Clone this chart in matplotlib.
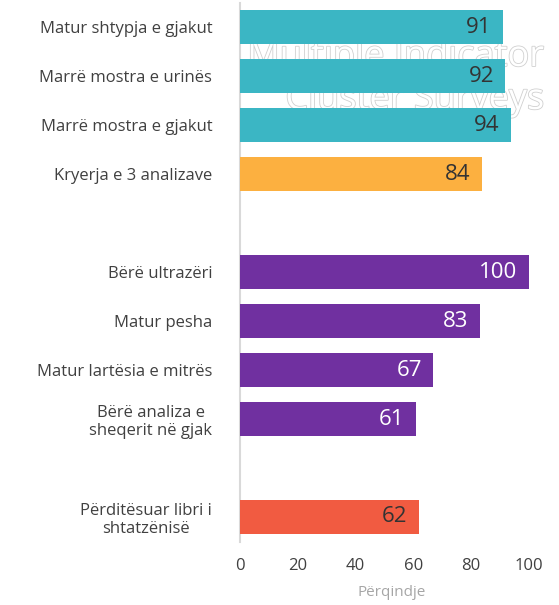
import matplotlib.pyplot as plt
import matplotlib.patheffects as pe

# te dhenat
labels = ["Matur shtypja e gjakut", "Marrë mostra e urinës", "Marrë mostra e gjakut",
          "Kryerja e 3 analizave", "", "Bërë ultrazëri", "Matur pesha",
          "Matur lartësia e mitrës", "Bërë analiza e\nsheqerit në gjak", "",
          "Përditësuar libri i\nshtatzënisë"]
values = [91, 92, 94, 84, None, 100, 83, 67, 61, None, 62]
colors = ["#3bb6c4", "#3bb6c4", "#3bb6c4", "#fcb040", None, "#7030a0", "#7030a0",
          "#7030a0", "#7030a0", None, "#f15b41"]
text_colors = ["#333333", "#333333", "#333333", "#333333", None, "white", "white",
               "white", "white", None, "#333333"]
xticks = [0, 20, 40, 60, 80, 100]

plt.rcParams['font.family'] = ['Open Sans', 'DejaVu Sans']

fig = plt.figure(figsize=(5.59, 6.05), dpi=100)
ax = fig.add_axes([240 / 559, 63.5 / 605, 303 / 559, 539 / 605])

for i, v in enumerate(values):
    if v is None:
        continue
    ax.barh(i, v, height=0.68, color=colors[i], zorder=3)
    ax.text(v - 4, i, str(v), ha='right', va='center', fontsize=16,
            color=text_colors[i], zorder=4)

ax.set_ylim(10.5, -0.5)
ax.set_xlim(0, 105)
ax.set_yticks(range(len(labels)))
ax.set_yticklabels(labels, fontsize=12, color="#404040", multialignment='center')
ax.tick_params(axis='y', length=0, pad=20)
ax.set_xticks(xticks)
ax.set_xticklabels([str(t) for t in xticks], fontsize=12, color="#404040")
ax.tick_params(axis='x', length=0, pad=12)
ax.set_xlabel("Përqindje", fontsize=11, color="#a6a6a6", labelpad=8)

for s in ['top', 'right', 'bottom']:
    ax.spines[s].set_visible(False)
ax.spines['left'].set_color("#d9d9d9")
ax.spines['left'].set_linewidth(1.5)

# watermark, pas shtyllave
for txt, y in [("Multiple Indicator", 57), ("Cluster Surveys", 100)]:
    ax.text(545 / 559, 1 - y / 605, txt, ha='right', va='center', fontsize=26,
            color='white', zorder=1, transform=fig.transFigure, clip_on=False,
            path_effects=[pe.withStroke(linewidth=1.2, foreground="#d0d0d0")])

fig.savefig("out.png", dpi=100)
